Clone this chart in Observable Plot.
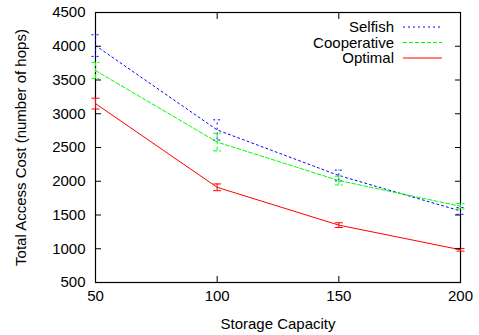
<!DOCTYPE html>
<html>
<head>
<meta charset="utf-8">
<script src="https://cdn.jsdelivr.net/npm/d3@7"></script>
<script src="https://cdn.jsdelivr.net/npm/@observablehq/plot@0.6"></script>
<style>
  html, body { margin: 0; padding: 0; background: #fff; }
  svg { display: block; }
</style>
</head>
<body>
<div id="chart"></div>
<script>
const capacity = [50, 100, 150, 200];
const seriesNames = ["Selfish", "Cooperative", "Optimal"];
const selfish = [4010, 2760, 2085, 1560];
const selfishErr = [160, 150, 80, 50];
const cooperative = [3640, 2580, 2010, 1630];
const cooperativeErr = [120, 130, 65, 40];
const optimal = [3150, 1910, 1350, 985];
const optimalErr = [80, 50, 35, 20];
const xTicks = [50, 100, 150, 200];
const yTicks = [500, 1000, 1500, 2000, 2500, 3000, 3500, 4000, 4500];

const colors = {Selfish: "#0000ff", Cooperative: "#00ff00", Optimal: "#ff0000"};
const dashes = {Selfish: "2,3", Cooperative: "4,2", Optimal: null};

const valuesBy = {Selfish: selfish, Cooperative: cooperative, Optimal: optimal};
const errBy = {Selfish: selfishErr, Cooperative: cooperativeErr, Optimal: optimalErr};
const rows = seriesNames.flatMap(s => capacity.map((c, i) => ({
  series: s, x: c, y: valuesBy[s][i], lo: valuesBy[s][i] - errBy[s][i], hi: valuesBy[s][i] + errBy[s][i]
})));

const capSymbol = {draw(ctx, size) { ctx.moveTo(-4, 0); ctx.lineTo(4, 0); }};
const font = "Liberation Sans, Arial, Helvetica, sans-serif";

const marks = [Plot.frame({stroke: "#000", strokeWidth: 1.2})];
for (const s of seriesNames) {
  const d = rows.filter(r => r.series === s);
  marks.push(
    Plot.ruleX(d, {x: "x", y1: "lo", y2: "hi", stroke: colors[s], strokeWidth: 1, strokeDasharray: dashes[s]}),
    Plot.dot(d, {x: "x", y: "lo", symbol: capSymbol, r: 4, stroke: colors[s], strokeWidth: 1, strokeDasharray: dashes[s]}),
    Plot.dot(d, {x: "x", y: "hi", symbol: capSymbol, r: 4, stroke: colors[s], strokeWidth: 1, strokeDasharray: dashes[s]}),
    Plot.line(d, {x: "x", y: "y", stroke: colors[s], strokeWidth: 1, strokeDasharray: dashes[s]})
  );
}
marks.push(
  Plot.axisX({ticks: xTicks, tickSize: -6, tickPadding: 14, tickFormat: d => String(d),
    label: "Storage Capacity", labelAnchor: "center", labelArrow: "none", labelOffset: 46}),
  Plot.axisX({anchor: "top", ticks: xTicks, tickSize: -6, tickFormat: () => "", label: null}),
  Plot.axisY({ticks: yTicks, tickSize: -6, tickPadding: 16, tickFormat: d => String(d),
    label: "Total Access Cost (number of hops)", labelAnchor: "center", labelArrow: "none", labelOffset: 80}),
  Plot.axisY({anchor: "right", ticks: yTicks, tickSize: -6, tickFormat: () => "", label: null})
);

const plot = Plot.plot({
  width: 479,
  height: 335,
  marginLeft: 95,
  marginRight: 19,
  marginTop: 12,
  marginBottom: 53,
  style: {fontFamily: font, fontSize: "15px", color: "#000", background: "#fff"},
  x: {domain: [50, 200]},
  y: {domain: [500, 4500]},
  marks
});
document.getElementById("chart").appendChild(plot);

// Legend (key) inside the plot area, top-right
const svg = d3.select(plot);
const key = svg.append("g").attr("font-family", font).attr("font-size", 15);
seriesNames.forEach((s, i) => {
  const y = 27 + i * 15.5;
  key.append("text").attr("x", 394).attr("y", y).attr("dy", "0.35em")
    .attr("text-anchor", "end").attr("fill", "#000").text(s);
  key.append("line").attr("x1", 403).attr("x2", 442).attr("y1", y).attr("y2", y)
    .attr("stroke", colors[s]).attr("stroke-width", 1)
    .attr("stroke-dasharray", dashes[s]);
});
</script>
</body>
</html>
